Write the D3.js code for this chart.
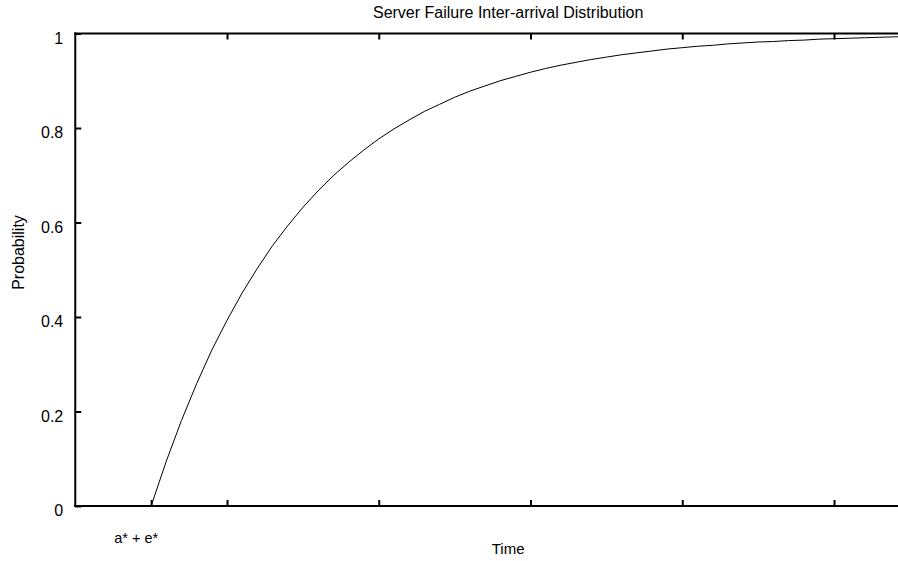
<!DOCTYPE html>
<html>
<head>
<meta charset="utf-8">
<script src="https://cdn.jsdelivr.net/npm/d3@7"></script>
<style>
  html, body { margin: 0; padding: 0; background: #fff; overflow: hidden; }
  svg { display: block; }
  text { font-family: "Liberation Sans", Arial, Helvetica, sans-serif; fill: #000; }
</style>
</head>
<body>
<svg id="chart" width="898" height="561"></svg>
<script>
// Cumulative probability of the time until the next server failure
const timeValues = [
  0.5, 0.6, 0.7, 0.8, 0.9, 1.0, 1.1, 1.2, 1.3, 1.4,
  1.5, 1.6, 1.7, 1.8, 1.9, 2.0, 2.1, 2.2, 2.3, 2.4,
  2.5, 2.6, 2.7, 2.8, 2.9, 3.0, 3.1, 3.2, 3.3, 3.4,
  3.5, 3.6, 3.7, 3.8, 3.9, 4.0, 4.1, 4.2, 4.3, 4.4,
  4.5, 4.6, 4.7, 4.8, 4.9, 5.0, 5.1, 5.2, 5.3, 5.4,
  5.5, 5.6, 5.7
];
const probabilityValues = [
  0.000, 0.095, 0.181, 0.259, 0.330, 0.393, 0.451, 0.503, 0.551, 0.593,
  0.632, 0.667, 0.699, 0.727, 0.753, 0.777, 0.798, 0.817, 0.835, 0.850,
  0.865, 0.878, 0.889, 0.900, 0.909, 0.918, 0.926, 0.933, 0.939, 0.945,
  0.950, 0.955, 0.959, 0.963, 0.967, 0.970, 0.973, 0.975, 0.978, 0.980,
  0.982, 0.983, 0.985, 0.986, 0.988, 0.989, 0.990, 0.991, 0.992, 0.993,
  0.993, 0.994, 0.994
];
const yTicks = [0, 0.2, 0.4, 0.6, 0.8, 1];
const yTickLabels = ["0", "0.2", "0.4", "0.6", "0.8", "1"];
const xTopTicks = [1, 2, 3, 4, 5];
const xBottomTicks = [0.5, 1, 2, 3, 4, 5];
const xTickLabels = { 0.5: "a* + e*" };
const titleText = "Server Failure Inter-arrival Distribution";
const xAxisTitle = "Time";
const yAxisTitle = "Probability";

const svg = d3.select("#chart");
const plot = { left: 75.25, right: 941, top: 33.5, bottom: 506 };

const x = d3.scaleLinear().domain([0, 5.705]).range([plot.left, plot.right]);
const y = d3.scaleLinear().domain([0, 1]).range([plot.bottom, plot.top]);

const tickLen = 6;

// Axes with inward ticks
const leftAxis = d3.axisLeft(y).tickValues(yTicks)
  .tickSize(-tickLen).tickPadding(12)
  .tickFormat((d, i) => yTickLabels[i]);
const bottomAxis = d3.axisBottom(x).tickValues(xBottomTicks)
  .tickSize(-tickLen).tickPadding(0)
  .tickFormat(d => xTickLabels[d] || "");
const topAxis = d3.axisTop(x).tickValues(xTopTicks)
  .tickSize(-tickLen).tickFormat("");

function styleAxis(g, size) {
  g.select(".domain").attr("stroke", "#000").attr("stroke-width", 2);
  g.selectAll(".tick line").attr("stroke", "#000").attr("stroke-width", 2);
  g.selectAll("text").style("font-size", size)
    .style("font-family", "'Liberation Sans', Arial, sans-serif").attr("fill", "#000");
}

const gLeft = svg.append("g").attr("transform", `translate(${plot.left},0)`)
  .call(leftAxis).call(styleAxis, "16px");
gLeft.selectAll(".domain").attr("d", `M0,${plot.top - 1}V${plot.bottom + 1}`);
gLeft.selectAll(".tick text").attr("dy", "0.62em").attr("x", -12);

const gBottom = svg.append("g").attr("transform", `translate(0,${plot.bottom})`)
  .call(bottomAxis).call(styleAxis, "14.5px");
gBottom.selectAll(".domain").attr("d", `M${plot.left - 1},0H${plot.right}`);
gBottom.selectAll(".tick text").attr("y", 37).attr("dy", 0).attr("dx", -15.5);

const gTop = svg.append("g").attr("transform", `translate(0,${plot.top})`)
  .call(topAxis).call(styleAxis, "16px");
gTop.selectAll(".domain").attr("d", `M${plot.left - 1},0H${plot.right}`);

// Right border
svg.append("line")
  .attr("x1", plot.right).attr("x2", plot.right)
  .attr("y1", plot.top).attr("y2", plot.bottom)
  .attr("stroke", "#000").attr("stroke-width", 2);

// Distribution curve
const points = timeValues.map((t, i) => [t, probabilityValues[i]]);
svg.append("path")
  .datum(points)
  .attr("fill", "none")
  .attr("stroke", "#000")
  .attr("stroke-width", 1)
  .attr("d", d3.line().x(d => x(d[0])).y(d => y(d[1])));

// Titles
svg.append("text")
  .attr("x", (plot.left + plot.right) / 2).attr("y", 17.5)
  .attr("text-anchor", "middle").style("font-size", "16px")
  .text(titleText);

svg.append("text")
  .attr("x", (plot.left + plot.right) / 2).attr("y", 554)
  .attr("text-anchor", "middle").style("font-size", "15px")
  .text(xAxisTitle);

svg.append("text")
  .attr("transform", `translate(23.5,${252.5}) rotate(-90)`)
  .attr("text-anchor", "middle").style("font-size", "16px")
  .text(yAxisTitle);
</script>
</body>
</html>
